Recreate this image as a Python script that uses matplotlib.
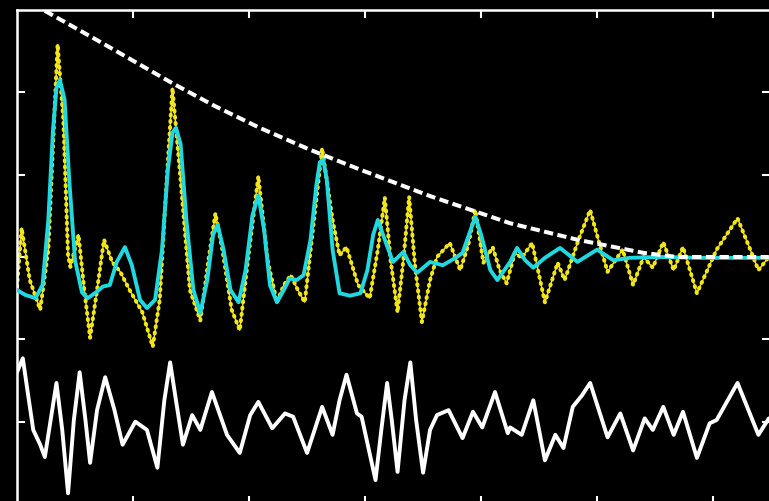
import numpy as np
import matplotlib
matplotlib.use('Agg')
from matplotlib import pyplot as plt

# yellow dotted signal
yel_x = [0.00, 0.04, 0.11, 0.20, 0.27, 0.32, 0.35, 0.40, 0.44, 0.46, 0.53, 0.58, 0.63, 0.69, 0.75,
         0.82, 0.89, 0.97, 1.08, 1.17, 1.23, 1.28, 1.34, 1.41, 1.49, 1.58, 1.65, 1.71, 1.77, 1.85,
         1.92, 1.99, 2.08, 2.16, 2.24, 2.30, 2.36, 2.42, 2.48, 2.55, 2.63, 2.72, 2.78, 2.84, 2.94,
         3.04, 3.11, 3.17, 3.22, 3.28, 3.33, 3.38, 3.43, 3.49, 3.56, 3.62, 3.73, 3.82, 3.89, 3.95,
         4.02, 4.10, 4.16, 4.22, 4.29, 4.35, 4.44, 4.55, 4.66, 4.72, 4.84, 4.94, 5.01, 5.09, 5.22,
         5.31, 5.40, 5.48, 5.57, 5.66, 5.74, 5.86, 6.03, 6.21, 6.32, 6.39, 6.48]
yel_y = [-0.36, 0.35, -0.28, -0.64, 0.09, 1.66, 2.58, 1.66, 0.02, -0.12, 0.27, -0.40, -0.98, -0.40, 0.21,
         -0.06, -0.18, -0.40, -0.67, -1.09, -0.52, 0.69, 2.05, 0.94, -0.40, -0.77, -0.04, 0.53, 0.09, -0.64,
         -0.89, -0.04, 0.98, -0.04, -0.55, -0.34, -0.22, -0.40, -0.55, 0.33, 1.32, 0.45, 0.02, 0.12, -0.34,
         -0.50, 0.09, 0.72, -0.04, -0.67, -0.04, 0.73, -0.10, -0.79, -0.28, 0.00, 0.17, -0.16, 0.15, 0.57,
         -0.07, 0.12, -0.16, -0.32, 0.05, -0.01, 0.17, -0.55, -0.07, -0.28, 0.21, 0.57, 0.21, -0.18, 0.09,
         -0.34, 0.00, -0.13, 0.18, -0.16, 0.12, -0.44, 0.09, 0.47, 0.09, -0.16, 0.00]

# cyan filtered signal
cyan_x = [0.00, 0.07, 0.16, 0.22, 0.27, 0.31, 0.34, 0.37, 0.41, 0.45, 0.50, 0.56, 0.61, 0.68, 0.74,
          0.80, 0.86, 0.93, 0.99, 1.06, 1.12, 1.19, 1.25, 1.30, 1.34, 1.37, 1.41, 1.46, 1.52, 1.58,
          1.64, 1.69, 1.73, 1.78, 1.84, 1.91, 1.97, 2.03, 2.08, 2.13, 2.18, 2.24, 2.30, 2.35, 2.41,
          2.47, 2.53, 2.58, 2.61, 2.64, 2.67, 2.72, 2.78, 2.87, 2.96, 3.02, 3.07, 3.11, 3.17, 3.24,
          3.33, 3.39, 3.45, 3.56, 3.67, 3.78, 3.84, 3.91, 3.95, 4.00, 4.08, 4.14, 4.25, 4.31, 4.38,
          4.45, 4.55, 4.68, 4.77, 4.83, 5.00, 5.14, 5.28, 5.54, 5.89, 6.48]
cyan_y = [-0.40, -0.46, -0.50, -0.34, 0.45, 1.54, 2.05, 2.15, 1.91, 0.94, -0.04, -0.43, -0.50, -0.43, -0.36,
          -0.34, -0.06, 0.12, -0.10, -0.52, -0.62, -0.52, 0.09, 1.06, 1.51, 1.57, 1.37, 0.45, -0.40, -0.68,
          -0.28, 0.27, 0.39, 0.09, -0.40, -0.55, -0.16, 0.51, 0.75, 0.33, -0.34, -0.55, -0.40, -0.26, -0.28,
          -0.22, 0.21, 0.87, 1.15, 1.18, 0.94, 0.09, -0.44, -0.47, -0.44, -0.16, 0.27, 0.45, 0.21, -0.06,
          0.06, -0.10, -0.19, -0.06, -0.10, -0.01, 0.05, 0.33, 0.49, 0.27, -0.16, -0.28, -0.06, 0.11, -0.04,
          -0.13, -0.01, 0.11, 0.01, -0.06, 0.09, -0.04, -0.01, 0.00, -0.01, -0.01]

# dashed envelope
env_x = [0.24, 0.72, 1.34, 1.71, 2.09, 2.53, 2.96, 3.56, 4.25, 4.83, 5.40, 5.69, 6.48]
env_y = [2.99, 2.61, 2.11, 1.83, 1.57, 1.30, 1.06, 0.74, 0.41, 0.21, 0.05, 0.00, 0.00]

# white residual trace
wht_x = [0.00, 0.05, 0.09, 0.14, 0.20, 0.24, 0.29, 0.34, 0.39, 0.44, 0.49, 0.54, 0.59, 0.63, 0.69,
         0.76, 0.84, 0.91, 1.02, 1.12, 1.21, 1.27, 1.32, 1.37, 1.43, 1.51, 1.58, 1.68, 1.81, 1.92,
         2.01, 2.08, 2.20, 2.31, 2.38, 2.50, 2.63, 2.72, 2.78, 2.84, 2.93, 2.97, 3.09, 3.14, 3.19,
         3.23, 3.28, 3.34, 3.39, 3.44, 3.50, 3.56, 3.62, 3.72, 3.84, 3.93, 4.01, 4.12, 4.23, 4.25,
         4.35, 4.45, 4.55, 4.64, 4.71, 4.79, 4.87, 4.94, 5.09, 5.20, 5.31, 5.41, 5.48, 5.57, 5.66,
         5.74, 5.86, 5.97, 6.03, 6.21, 6.39, 6.48]
wht_y = [-1.40, -1.23, -1.62, -2.10, -2.28, -2.43, -1.98, -1.53, -2.10, -2.87, -1.98, -1.40, -1.98, -2.50, -1.86,
         -1.46, -1.86, -2.28, -2.00, -2.10, -2.56, -1.74, -1.28, -1.74, -2.28, -1.92, -2.10, -1.64, -2.16, -2.38,
         -1.92, -1.76, -2.08, -1.90, -1.94, -2.38, -1.82, -2.16, -1.74, -1.43, -1.90, -1.94, -2.71, -2.10, -1.53,
         -1.98, -2.61, -1.74, -1.28, -1.98, -2.62, -2.10, -1.92, -1.86, -2.20, -1.88, -2.07, -1.64, -2.14, -2.07,
         -2.16, -1.74, -2.47, -2.16, -2.32, -1.82, -1.68, -1.53, -2.19, -1.90, -2.35, -1.96, -2.10, -1.82, -2.16,
         -1.88, -2.44, -2.02, -1.98, -1.53, -2.16, -1.96]

fig = plt.figure(figsize=(7.69, 5.02), dpi=100, facecolor='black')
ax = fig.add_axes([17/769, -3/502, 753/769, 494/502], facecolor='black')

ax.plot(yel_x, yel_y, color='#f2e619', lw=1.0, solid_joinstyle='round', zorder=2)
ax.plot(yel_x, yel_y, color='#f2e619', lw=2.9, linestyle=(0, (0.25, 1.3)),
        dash_capstyle='round', zorder=2)
ax.plot(cyan_x, cyan_y, color='#1fd8e0', lw=2.8, solid_joinstyle='round',
        solid_capstyle='round', zorder=3)
ax.plot(env_x, env_y, color='white', lw=2.9, linestyle=(0, (2.3, 1.1)), zorder=4)
ax.plot(wht_x, wht_y, color='white', lw=2.8, solid_joinstyle='round',
        solid_capstyle='round', zorder=3)

ax.set_xlim(0, 6.49)
ax.set_ylim(-3, 3)
ax.set_xticks(np.arange(1, 7))
ax.set_yticks(np.arange(-2, 3))
ax.tick_params(direction='in', length=6, width=1.5, colors='white',
               top=True, right=True, labelleft=False, labelbottom=False)
for s in ax.spines.values():
    s.set_color('white')
    s.set_linewidth(1.8)

fig.savefig('out.png', dpi=100, facecolor='black')
